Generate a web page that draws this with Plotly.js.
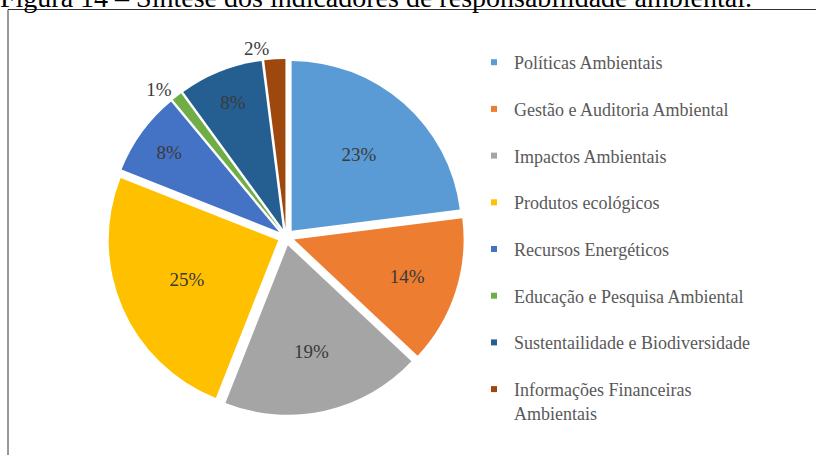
<!DOCTYPE html>
<html>
<head>
<meta charset="utf-8">
<script src="https://cdn.plot.ly/plotly-3.0.1.min.js"></script>
<style>
  html, body { margin: 0; padding: 0; background: #fff; }
  #chart { width: 816px; height: 455px; }
</style>
</head>
<body>
<div id="chart"></div>
<script>
const categories = [
  "Políticas Ambientais",
  "Gestão e Auditoria Ambiental",
  "Impactos Ambientais",
  "Produtos ecológicos",
  "Recursos Energéticos",
  "Educação e Pesquisa Ambiental",
  "Sustentailidade e Biodiversidade",
  "Informações Financeiras<br>Ambientais"
];
const shares = [23, 14, 19, 25, 8, 1, 8, 2];
const sliceColors = ["#5B9BD5", "#ED7D31", "#A5A5A5", "#FFC000", "#4472C4", "#70AD47", "#255E91", "#9E480E"];
const labelPositions = ["inside", "inside", "inside", "inside", "inside", "outside", "inside", "outside"];

const titleText = "Figura 14 – Síntese dos indicadores de responsabilidade ambiental.";
const serif = "Liberation Serif, Times New Roman, serif";

const pie = {
  type: "pie",
  labels: categories,
  values: shares,
  sort: false,
  direction: "clockwise",
  rotation: 0,
  pull: 0.05,
  marker: { colors: sliceColors, line: { color: "#fff", width: 0 } },
  texttemplate: "%{value}%",
  textposition: labelPositions,
  insidetextorientation: "horizontal",
  textfont: { family: serif, size: 19, color: "#3a3a3a" },
  showlegend: false,
  hoverinfo: "label+percent",
  domain: { x: [106 / 816, 466 / 816], y: [40 / 455, 396 / 455] }
};

// legend entries, one group each so the spacing can follow the original
const legendTraces = categories.map((name, i) => ({
  type: "scatter",
  mode: "markers",
  x: [null],
  y: [null],
  name: name,
  legendgroup: "g" + i,
  marker: { symbol: "square", size: 6, color: sliceColors[i] },
  hoverinfo: "skip"
}));

const layout = {
  width: 816,
  height: 455,
  margin: { l: 0, r: 0, t: 0, b: 0, autoexpand: false },
  paper_bgcolor: "#fff",
  plot_bgcolor: "#fff",
  title: {
    text: titleText,
    font: { family: serif, size: 28, color: "#000" },
    xref: "container",
    yref: "container",
    x: 0,
    xanchor: "left",
    y: 1 - 7 / 455,
    yanchor: "bottom",
    pad: { l: 0, r: 0, t: 0, b: 0 }
  },
  xaxis: { visible: false, domain: [0.99, 1] },
  yaxis: { visible: false, domain: [0.99, 1] },
  legend: {
    xref: "paper",
    yref: "paper",
    x: 474 / 816,
    xanchor: "left",
    y: 1 - 44 / 455,
    yanchor: "top",
    valign: "top",
    maxheight: 1,
    tracegroupgap: 20.3,
    font: { family: serif, size: 18, color: "#595959" },
    bgcolor: "rgba(0,0,0,0)"
  },
  shapes: [{
    type: "rect",
    xref: "paper",
    yref: "paper",
    x0: 8 / 816,
    x1: 1.05,
    y0: -0.05,
    y1: 1 - 9.5 / 455,
    line: { color: "#333", width: 1 },
    layer: "below"
  }]
};

Plotly.newPlot("chart", [pie].concat(legendTraces), layout, { displayModeBar: false, staticPlot: true });
</script>
</body>
</html>
